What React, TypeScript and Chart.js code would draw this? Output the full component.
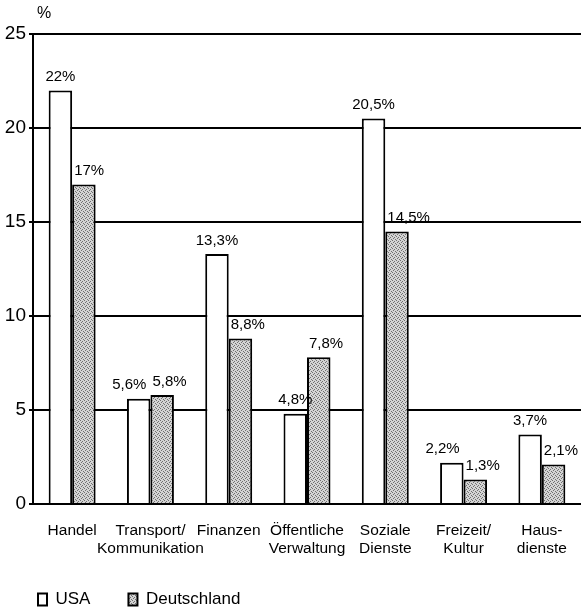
import React, { useEffect, useRef } from "react";
import { Chart, registerables } from "chart.js";

Chart.register(...registerables);

const categories: string[][] = [
  ["Handel"],
  ["Transport/", "Kommunikation"],
  ["Finanzen"],
  ["Öffentliche", "Verwaltung"],
  ["Soziale", "Dienste"],
  ["Freizeit/", "Kultur"],
  ["Haus-", "dienste"],
];
const usaValues = [22, 5.6, 13.3, 4.8, 20.5, 2.2, 3.7];
const deValues = [17, 5.8, 8.8, 7.8, 14.5, 1.3, 2.1];
const usaLabels = ["22%", "5,6%", "13,3%", "4,8%", "20,5%", "2,2%", "3,7%"];
const deLabels = ["17%", "5,8%", "8,8%", "7,8%", "14,5%", "1,3%", "2,1%"];
const yTicks = [0, 5, 10, 15, 20, 25];

const FONT = "'Liberation Sans', Arial, sans-serif";

function makeStipple(): CanvasPattern | string {
  const c = document.createElement("canvas");
  c.width = 4;
  c.height = 4;
  const g = c.getContext("2d");
  if (!g) return "#bdbdbd";
  g.fillStyle = "#d4d4d4";
  g.fillRect(0, 0, 4, 4);
  g.fillStyle = "#707070";
  g.fillRect(0, 0, 1, 1);
  g.fillRect(2, 1, 1, 1);
  g.fillRect(1, 2, 1, 1);
  g.fillRect(3, 3, 1, 1);
  const p = g.createPattern(c, "repeat");
  return p || "#bdbdbd";
}

const noLabelClip = {
  id: "noLabelClip",
  afterLayout(chart: any) {
    const x = chart.scales.x;
    if (x) x._computeLabelArea = () => undefined;
  },
};

const valueLabelPlugin = {
  id: "valueLabels",
  afterDatasetsDraw(chart: any) {
    const ctx = chart.ctx;
    ctx.save();
    ctx.fillStyle = "#000";
    ctx.font = `15px ${FONT}`;
    ctx.textBaseline = "bottom";
    const usaMeta = chart.getDatasetMeta(0);
    const deMeta = chart.getDatasetMeta(1);
    usaMeta.data.forEach((bar: any, i: number) => {
      const de = deMeta.data[i];
      const halfW = de.width / 2;
      const deLeft = de.x - halfW;
      ctx.textAlign = "left";
      ctx.fillText(deLabels[i], deLeft + 2, de.y - 6);
      const w = ctx.measureText(usaLabels[i]).width;
      if (Math.abs(bar.y - de.y) < 18 && bar.x + w / 2 > deLeft - 4) {
        ctx.textAlign = "right";
        ctx.fillText(usaLabels[i], deLeft - 4, bar.y - 6);
      } else {
        ctx.textAlign = "center";
        ctx.fillText(usaLabels[i], bar.x, bar.y - 6);
      }
    });
    ctx.font = `16px ${FONT}`;
    ctx.textAlign = "left";
    ctx.textBaseline = "middle";
    ctx.fillText("%", chart.chartArea.left + 4, 14);
    ctx.restore();
  },
};

export default function App() {
  const ref = useRef<HTMLCanvasElement>(null);
  useEffect(() => {
    document.body.style.margin = "0";
    const stipple = makeStipple();
    const chart = new Chart(ref.current!, {
      type: "bar",
      data: {
        labels: categories,
        datasets: [
          {
            label: "USA",
            data: usaValues,
            backgroundColor: "#ffffff",
            borderColor: "#000000",
            borderWidth: 2,
            categoryPercentage: 0.6,
            barPercentage: 1,
          },
          {
            label: "Deutschland",
            data: deValues,
            backgroundColor: stipple as any,
            borderColor: "#000000",
            borderWidth: 2,
            categoryPercentage: 0.6,
            barPercentage: 1,
          },
        ],
      },
      options: {
        animation: false,
        responsive: false,
        maintainAspectRatio: false,
        layout: { padding: { top: 34, left: 0, right: 0, bottom: -9 } },
        plugins: {
          tooltip: { enabled: false },
          legend: {
            position: "bottom",
            align: "start",
            labels: {
              color: "#000",
              font: { family: FONT, size: 17 },
              boxWidth: 9,
              boxHeight: 12,
              padding: 38,
            },
          },
        },
        scales: {
          x: {
            grid: { display: false, drawTicks: false },
            border: { display: true, color: "#000", width: 2 },
            ticks: {
              color: "#000",
              font: { family: FONT, size: 15.5 },
              padding: 17,
              maxRotation: 0,
              autoSkip: false,
            },
            afterFit: (scale: any) => {
              scale.height = 49;
              scale.paddingRight = 0;
              scale.paddingLeft = 0;
            },
          },
          y: {
            min: 0,
            max: 25,
            afterBuildTicks: (scale: any) => {
              scale.ticks = yTicks.map((v) => ({ value: v }));
            },
            grid: {
              color: "#000",
              lineWidth: 2,
              drawTicks: true,
              tickLength: 4,
            },
            border: { display: true, color: "#000", width: 2 },
            ticks: {
              color: "#000",
              font: { family: FONT, size: 19 },
              padding: 3,
            },
            afterFit: (scale: any) => {
              scale.width = 33;
            },
          },
        },
      },
      plugins: [noLabelClip, valueLabelPlugin],
    });
    return () => chart.destroy();
  }, []);
  return (
    <div style={{ position: "absolute", left: 0, top: 0, width: 581, height: 609 }}>
      <canvas ref={ref} width={581} height={609} style={{ display: "block" }} />
    </div>
  );
}
